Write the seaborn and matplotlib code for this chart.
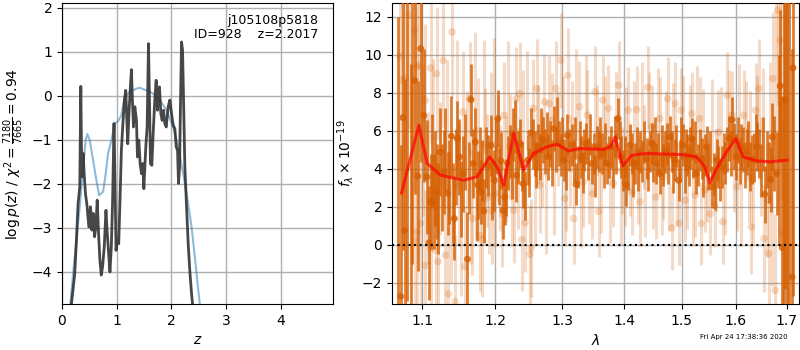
import numpy as np
import pandas as pd
import matplotlib
matplotlib.use("Agg")
import matplotlib.pyplot as plt
from matplotlib.ticker import FixedLocator, FixedFormatter, NullLocator
import seaborn as sns

# ---- left panel: log p(z) ----
pz_blue_z = [0.13, 0.153, 0.214, 0.275, 0.336, 0.385, 0.433, 0.464, 0.507, 0.568, 0.629, 0.678,
             0.751, 0.800, 0.842, 0.904, 0.965, 1.026, 1.087, 1.148, 1.239, 1.361, 1.422, 1.545,
             1.667, 1.789, 1.911, 2.033, 2.125, 2.216, 2.308, 2.369, 2.430, 2.479, 2.521, 2.55]
pz_blue_y = [-5.0, -4.73, -3.89, -3.13, -2.37, -1.62, -1.01, -0.87, -1.01, -1.46, -1.92, -2.26,
             -2.18, -1.77, -1.31, -1.01, -0.63, -0.58, -0.44, -0.03, 0.09, 0.16, 0.18, 0.12,
             0.05, -0.10, -0.33, -0.71, -1.16, -1.77, -2.45, -2.98, -3.66, -4.26, -4.73, -5.0]

pz_dark_z = [0.15, 0.172, 0.233, 0.264, 0.294, 0.325, 0.344, 0.362, 0.387, 0.405, 0.429, 0.460,
             0.491, 0.521, 0.546, 0.571, 0.595, 0.620, 0.644, 0.669, 0.693, 0.718, 0.742, 0.773,
             0.804, 0.828, 0.853, 0.877, 0.902, 0.926, 0.951, 0.969, 0.988, 1.012, 1.037, 1.061,
             1.086, 1.110, 1.141, 1.166, 1.184, 1.202, 1.227, 1.251, 1.270, 1.288, 1.307, 1.332,
             1.362, 1.380, 1.405, 1.429, 1.454, 1.478, 1.497, 1.515, 1.533, 1.557, 1.582, 1.600,
             1.618, 1.643, 1.667, 1.697, 1.722, 1.747, 1.765, 1.783, 1.808, 1.832, 1.857, 1.881,
             1.906, 1.942, 1.973, 2.003, 2.034, 2.064, 2.089, 2.113, 2.131, 2.150, 2.168, 2.186,
             2.205, 2.223, 2.247, 2.278, 2.308, 2.339, 2.369, 2.388, 2.41]
pz_dark_y = [-5.5, -4.73, -4.04, -3.28, -2.45, -2.07, 0.21, -1.84, -1.31, -1.77, -2.22, -2.52,
             -2.98, -2.52, -3.05, -2.67, -3.20, -2.98, -2.37, -3.13, -3.73, -4.07, -3.88, -3.43,
             -2.60, -3.13, -3.58, -4.00, -3.43, -2.37, -0.63, -1.92, -3.51, -3.28, -3.36, -2.37,
             -1.24, -0.71, -0.10, 0.12, -0.48, -1.09, -0.33, 0.20, 0.59, -0.10, -0.71, -0.25,
             -0.56, -1.39, -1.01, -1.54, -1.77, -1.54, -2.11, -1.62, -1.16, -0.71, 1.18, -0.10,
             -1.54, -1.58, -0.86, -0.10, 0.35, -0.33, 0.05, 0.20, -0.41, -0.56, -0.33, -0.63,
             -0.71, -0.25, -0.10, -0.41, -0.67, -0.75, -1.16, -1.24, -1.99, -1.62, -0.10, 1.22,
             1.03, -0.10, -1.62, -2.52, -3.36, -4.00, -4.49, -4.73, -5.5]

# ---- right panel: spectrum, points with visible dots ----
dark_wave = [1.072, 1.075, 1.077, 1.090, 1.094, 1.098, 1.102, 1.106, 1.109, 1.111, 1.115, 1.119,
             1.124, 1.129, 1.134, 1.139, 1.143, 1.147, 1.150, 1.155, 1.161, 1.166, 1.169, 1.172,
             1.176, 1.180, 1.184, 1.190, 1.194, 1.199, 1.204, 1.208, 1.211, 1.214, 1.218, 1.226,
             1.231, 1.237, 1.241, 1.248, 1.252, 1.258, 1.263, 1.271, 1.279, 1.287, 1.295, 1.303,
             1.308, 1.315, 1.322, 1.330, 1.338, 1.347, 1.355, 1.364, 1.372, 1.379, 1.390, 1.395,
             1.404, 1.410, 1.418, 1.427, 1.438, 1.447, 1.455, 1.461, 1.470, 1.479, 1.487, 1.494,
             1.502, 1.510, 1.518, 1.526, 1.536, 1.545, 1.555, 1.564, 1.574, 1.587, 1.593, 1.601,
             1.610, 1.621, 1.632, 1.641, 1.656, 1.668, 1.671, 1.680, 1.687, 1.691, 1.697, 1.711,
             1.713]
dark_flux = [-2.73, 6.69, 0.74, 8.66, 3.60, 10.33, 6.80, 3.56, 0.09, 2.25, 2.25, 2.80,
             4.88, 3.83, 2.70, 5.71, 1.37, 5.58, 4.62, 3.74, -0.77, 7.64, 4.27, 5.41,
             3.13, 2.78, 1.77, 4.18, 5.23, 3.39, 6.64, 4.41, 1.81, 2.51, 4.30, 5.81,
             3.65, 5.32, 3.21, 4.45, 5.88, 4.80, 5.15, 5.50, 4.62, 6.11, 5.32, 4.45,
             5.76, 5.23, 3.18, 4.62, 5.32, 4.27, 5.15, 4.80, 4.27, 5.15, 6.64, 4.62,
             3.13, 5.23, 4.27, 4.88, 4.53, 5.32, 4.27, 3.74, 4.88, 5.67, 4.45, 3.39,
             5.23, 4.71, 5.58, 3.74, 4.53, 5.15, 3.04, 4.45, 4.09, 5.58, 6.58, 4.62,
             5.15, 4.88, 4.48, 5.15, 2.65, 3.44, 5.67, 3.74, 8.36, -0.16, 7.64, -1.71,
             9.31]
dark_err = [8.0, 7.0, 8.0, 6.0, 5.0, 6.0, 3.5, 3.0, 3.0, 2.5, 2.5, 2.5,
            2.3, 2.2, 2.2, 2.1, 2.2, 2.0, 2.0, 2.0, 2.5, 1.9, 1.8, 1.8,
            1.8, 1.7, 1.7, 1.6, 1.6, 1.6, 1.5, 1.5, 1.5, 1.5, 1.4, 1.4,
            1.4, 1.3, 1.3, 1.3, 1.3, 1.2, 1.2, 1.2, 1.2, 1.2, 1.2, 1.1,
            1.1, 1.1, 1.1, 1.1, 1.1, 1.1, 1.1, 1.1, 1.1, 1.1, 1.1, 1.1,
            1.1, 1.1, 1.1, 1.1, 1.1, 1.1, 1.1, 1.1, 1.1, 1.1, 1.1, 1.1,
            1.1, 1.1, 1.1, 1.1, 1.1, 1.1, 1.1, 1.1, 1.1, 1.2, 1.2, 1.2,
            1.2, 1.2, 1.3, 1.3, 1.5, 1.7, 1.8, 2.2, 4.0, 8.0, 10.0, 12.0,
            12.0]

# further dark bins (dots mostly hidden behind bars)
dark_wave_b = [1.068, 1.080, 1.085, 1.087, 1.113, 1.117, 1.121, 1.126, 1.131, 1.136,
               1.141, 1.145, 1.152, 1.158, 1.163, 1.174, 1.178, 1.182, 1.187, 1.196,
               1.201, 1.206, 1.216, 1.221, 1.224, 1.229, 1.234, 1.239, 1.244, 1.250,
               1.255, 1.260, 1.266, 1.268, 1.274, 1.277, 1.282, 1.284, 1.290, 1.292,
               1.298, 1.300, 1.306, 1.311, 1.318, 1.320, 1.325, 1.328, 1.333, 1.335,
               1.341, 1.344, 1.350, 1.352, 1.358, 1.361, 1.367, 1.369, 1.375, 1.382,
               1.385, 1.387, 1.393, 1.398, 1.401, 1.407, 1.413, 1.415, 1.421, 1.424,
               1.430, 1.433, 1.441, 1.444, 1.450, 1.452, 1.458, 1.464, 1.467, 1.473,
               1.476, 1.482, 1.484, 1.490, 1.497, 1.499, 1.505, 1.507, 1.513, 1.515,
               1.521, 1.523, 1.529, 1.532, 1.539, 1.542, 1.548, 1.551, 1.558, 1.561,
               1.567, 1.570, 1.577, 1.580, 1.584, 1.590, 1.597, 1.604, 1.607, 1.613,
               1.617, 1.624, 1.627, 1.635, 1.638, 1.645, 1.648, 1.652, 1.660, 1.664,
               1.675, 1.684, 1.694, 1.700, 1.705]
dark_flux_b = [4.0, 5.0, 2.5, 6.0, 4.4, 3.5, 1.9, 3.0, 5.0, 3.3,
               2.2, 4.1, 2.4, 4.9, 3.5, 2.0, 4.5, 3.9, 4.6, 2.9,
               5.2, 3.6, 3.0, 4.9, 3.8, 6.2, 4.6, 4.1, 2.6, 3.8,
               5.3, 4.2, 4.6, 6.0, 4.9, 5.8, 5.3, 4.3, 5.0, 6.6,
               4.7, 5.6, 4.0, 5.0, 4.4, 5.6, 4.1, 5.4, 3.8, 5.0,
               4.5, 5.8, 4.8, 3.6, 4.9, 5.6, 4.1, 5.3, 4.6, 4.1,
               5.7, 4.8, 5.4, 3.9, 4.6, 4.0, 4.8, 3.6, 5.1, 3.9,
               4.4, 5.4, 3.9, 4.9, 4.4, 5.6, 4.8, 5.2, 4.2, 5.3,
               4.3, 4.9, 3.8, 5.2, 4.4, 5.6, 3.8, 5.0, 4.2, 5.1,
               4.6, 5.4, 4.2, 5.0, 3.6, 4.7, 4.0, 4.9, 3.7, 2.9,
               4.1, 3.4, 4.8, 4.3, 5.0, 4.8, 5.2, 5.5, 4.4, 5.0,
               4.2, 5.3, 4.1, 4.6, 5.6, 4.8, 3.9, 5.3, 4.5, 3.8,
               4.8, 5.0, 4.0, 3.0, 6.0]
dark_err_b = [8.0, 8.0, 7.0, 7.0, 2.5, 2.5, 2.4, 2.3, 2.2, 2.2,
              2.1, 2.0, 2.0, 2.0, 1.9, 1.8, 1.7, 1.6, 1.6, 1.6,
              1.5, 1.5, 1.5, 1.4, 1.4, 1.4, 1.4, 1.3, 1.3, 1.3,
              1.3, 1.2, 1.2, 1.2, 1.2, 1.2, 1.2, 1.2, 1.2, 1.2,
              1.1, 1.1, 1.1, 1.1, 1.1, 1.1, 1.1, 1.1, 1.1, 1.1,
              1.1, 1.1, 1.1, 1.1, 1.1, 1.1, 1.1, 1.1, 1.1, 1.1,
              1.1, 1.1, 1.1, 1.1, 1.1, 1.1, 1.1, 1.1, 1.1, 1.1,
              1.1, 1.1, 1.1, 1.1, 1.1, 1.1, 1.1, 1.1, 1.1, 1.1,
              1.1, 1.1, 1.1, 1.1, 1.1, 1.1, 1.1, 1.1, 1.1, 1.1,
              1.1, 1.1, 1.1, 1.1, 1.1, 1.1, 1.1, 1.1, 1.1, 1.1,
              1.1, 1.1, 1.1, 1.1, 1.2, 1.2, 1.2, 1.2, 1.2, 1.2,
              1.2, 1.2, 1.3, 1.3, 1.3, 1.3, 1.4, 1.4, 1.5, 1.6,
              2.0, 5.0, 10.0, 12.0, 12.0]

light_wave = [1.071, 1.074, 1.078, 1.083, 1.090, 1.091, 1.093, 1.093, 1.096, 1.098, 1.104, 1.104,
              1.111, 1.111, 1.118, 1.119, 1.121, 1.128, 1.131, 1.135, 1.140, 1.144, 1.149, 1.155,
              1.157, 1.164, 1.168, 1.173, 1.178, 1.182, 1.186, 1.191, 1.196, 1.200, 1.204, 1.210,
              1.213, 1.221, 1.227, 1.231, 1.236, 1.239, 1.244, 1.251, 1.253, 1.256, 1.261, 1.266,
              1.273, 1.280, 1.284, 1.290, 1.298, 1.304, 1.309, 1.313, 1.318, 1.327, 1.333, 1.340,
              1.348, 1.352, 1.358, 1.365, 1.374, 1.382, 1.391, 1.396, 1.401, 1.407, 1.413, 1.421,
              1.427, 1.433, 1.440, 1.447, 1.454, 1.461, 1.467, 1.475, 1.482, 1.488, 1.495, 1.498,
              1.506, 1.518, 1.524, 1.532, 1.535, 1.542, 1.552, 1.560, 1.567, 1.575, 1.583, 1.593,
              1.602, 1.615, 1.625, 1.630, 1.638, 1.644, 1.655, 1.661, 1.664, 1.672, 1.677, 1.682,
              1.687, 1.693]
light_flux = [9.93, 8.66, 8.80, 12.10, 11.30, 0.23, 9.36, 0.67, 9.45, 1.11, 7.60, -1.10,
              9.30, -0.20, -0.30, 9.00, -0.90, 9.70, -0.56, -2.60, 11.20, -3.00, 3.13, 6.99,
              -1.16, 7.69, 1.37, 3.22, 0.49, 0.26, 5.23, 2.51, 1.75, 2.69, 5.06, 1.63,
              6.82, 5.15, 1.81, 7.69, 7.96, 0.26, 1.14, -0.51, -0.18, 7.17, 8.22, 3.13,
              7.52, 7.43, 6.55, 8.22, 9.72, 2.43, 8.92, 4.45, 1.37, 7.26, 3.30, 6.82,
              2.69, 8.05, 1.75, 7.61, 7.17, 3.22, 8.40, 3.92, 3.30, 7.08, 2.78, 7.11,
              2.25, 5.15, 8.27, 6.20, 2.51, 6.64, 3.56, 7.69, 0.88, 7.43, 1.11, 7.08,
              2.34, 6.90, 2.60, 6.64, 1.11, 2.87, 1.63, 2.07, 5.93, 1.20, 7.87, 6.82,
              3.04, 6.82, 3.56, 0.93, 7.08, 8.22, 0.32, 2.34, -0.47, 8.75, -2.41, 12.35,
              10.77, 0.58]
light_err = [6.0, 6.0, 6.0, 6.0, 5.0, 5.0, 5.0, 5.0, 4.5, 4.5, 4.0, 4.0,
             4.0, 4.0, 3.5, 3.5, 3.5, 3.5, 3.5, 3.5, 3.5, 3.5, 3.2, 3.2,
             3.2, 3.0, 3.0, 3.0, 3.0, 3.0, 3.0, 3.0, 2.8, 2.8, 2.8, 2.8,
             2.8, 2.8, 2.8, 2.7, 2.7, 2.7, 2.6, 2.6, 2.6, 2.6, 2.6, 2.5,
             2.5, 2.5, 2.5, 2.5, 2.5, 2.5, 2.5, 2.4, 2.4, 2.4, 2.4, 2.4,
             2.4, 2.4, 2.4, 2.3, 2.3, 2.3, 2.3, 2.3, 2.3, 2.3, 2.3, 2.3,
             2.3, 2.2, 2.2, 2.2, 2.2, 2.2, 2.2, 2.2, 2.2, 2.2, 2.2, 2.2,
             2.2, 2.2, 2.2, 2.2, 2.2, 2.2, 2.2, 2.2, 2.2, 2.2, 2.3, 2.3,
             2.3, 2.4, 2.4, 2.5, 2.5, 2.6, 2.8, 3.0, 3.2, 3.5, 4.0, 5.0,
             6.0, 6.0]

light_wave_b = [1.101, 1.107, 1.114, 1.124, 1.133, 1.138, 1.146, 1.152, 1.160, 1.166,
                1.171, 1.176, 1.184, 1.189, 1.194, 1.198, 1.207, 1.216, 1.218, 1.224,
                1.233, 1.241, 1.247, 1.258, 1.263, 1.269, 1.276, 1.287, 1.294, 1.301,
                1.306, 1.316, 1.322, 1.330, 1.337, 1.343, 1.355, 1.362, 1.369, 1.377,
                1.386, 1.394, 1.404, 1.410, 1.417, 1.424, 1.430, 1.436, 1.443, 1.450,
                1.457, 1.464, 1.471, 1.478, 1.485, 1.491, 1.502, 1.509, 1.515, 1.521,
                1.528, 1.539, 1.546, 1.555, 1.563, 1.571, 1.579, 1.587, 1.597, 1.606,
                1.610, 1.620, 1.628, 1.634, 1.641, 1.649, 1.652, 1.667, 1.670, 1.679,
                1.690]
light_flux_b = [5.5, 3.0, 6.0, 4.0, 6.2, 1.5, 7.5, 0.5, 5.0, 2.0,
                8.2, 5.8, 7.8, 3.9, 6.2, 8.0, 3.5, 4.0, 7.9, 2.7,
                3.5, 6.5, 7.6, 2.6, 5.8, 4.5, 2.0, 3.0, 5.6, 6.4,
                3.2, 6.2, 7.9, 2.2, 7.6, 3.5, 6.0, 3.0, 6.6, 2.4,
                6.8, 2.3, 6.0, 3.8, 6.3, 3.4, 7.3, 2.6, 6.9, 3.0,
                7.1, 2.7, 5.9, 2.9, 6.3, 3.2, 6.7, 3.0, 6.2, 2.1,
                7.2, 6.0, 3.4, 6.5, 3.9, 6.1, 2.7, 6.9, 4.0, 7.2,
                2.2, 6.2, 5.7, 2.4, 6.4, 4.1, 6.6, 6.4, 1.2, 9.0,
                8.4]
light_err_b = [4.0, 4.0, 3.8, 3.5, 3.5, 3.5, 3.3, 3.2, 3.1, 3.0,
               3.0, 3.0, 3.0, 3.0, 2.9, 2.9, 2.8, 2.8, 2.8, 2.8,
               2.7, 2.7, 2.6, 2.6, 2.6, 2.5, 2.5, 2.5, 2.5, 2.5,
               2.5, 2.4, 2.4, 2.4, 2.4, 2.4, 2.4, 2.4, 2.3, 2.3,
               2.3, 2.3, 2.3, 2.3, 2.3, 2.3, 2.3, 2.2, 2.2, 2.2,
               2.2, 2.2, 2.2, 2.2, 2.2, 2.2, 2.2, 2.2, 2.2, 2.2,
               2.2, 2.2, 2.2, 2.2, 2.2, 2.2, 2.2, 2.3, 2.3, 2.3,
               2.3, 2.4, 2.4, 2.4, 2.5, 2.6, 2.7, 3.2, 3.4, 4.5,
               6.0]

model_wave = [1.0732, 1.0956, 1.1066, 1.1243, 1.1559, 1.1745, 1.1923, 1.2029, 1.2124, 1.2270,
              1.2417, 1.2566, 1.2769, 1.2922, 1.3102, 1.3287, 1.3661, 1.3771, 1.3851, 1.3980,
              1.4130, 1.4385, 1.5000, 1.5266, 1.5418, 1.5510, 1.5634, 1.5821, 1.6000, 1.6138,
              1.6399, 1.6660, 1.7009]
model_flux = [2.72, 6.29, 4.27, 3.66, 3.39, 3.57, 4.62, 4.09, 3.13, 5.85,
              3.92, 4.80, 5.15, 5.29, 4.94, 5.06, 5.01, 5.15, 5.67, 4.15,
              4.71, 4.80, 4.74, 4.62, 4.09, 3.25, 4.00, 4.88, 5.59, 4.62,
              4.41, 4.36, 4.45]

wave_ticks = [1.1, 1.2, 1.3, 1.4, 1.5, 1.6, 1.7]
grism_color = (0.835, 0.369, 0.0)

fig = plt.figure(figsize=(8, 3.5), dpi=100)
ax1 = fig.add_axes([0.0775, 0.131, 0.339, 0.86])
ax2 = fig.add_axes([0.49, 0.131, 0.509, 0.86])

# left: p(z)
blue = pd.DataFrame({"z": pz_blue_z, "lnp": pz_blue_y})
dark = pd.DataFrame({"z": pz_dark_z, "lnp": pz_dark_y})
sns.lineplot(data=blue, x="z", y="lnp", ax=ax1, color="#1f77b4", alpha=0.5, lw=1.5, sort=False)
sns.lineplot(data=dark, x="z", y="lnp", ax=ax1, color="#333333", alpha=0.9, lw=2, sort=False)
ax1.set_xlim(0, 4.96)
ax1.set_ylim(-4.73, 2.1)
ax1.set_xticks([0, 1, 2, 3, 4])
ax1.set_yticks([-4, -3, -2, -1, 0, 1, 2])
ax1.grid(True, color="#b0b0b0", lw=1)
ax1.set_axisbelow(True)
ax1.set_xlabel(r"$z$")
ax1.set_ylabel(r"$\log p(z)$ / $\chi^2=\frac{7180}{7665}=0.94$")
ax1.text(0.945, 0.965, "j105108p5818\nID=928    z=2.2017", transform=ax1.transAxes,
         ha="right", va="top", fontsize=9, linespacing=1.1)

# right: spectrum
lw_all = np.concatenate([light_wave, light_wave_b])
lf_all = np.concatenate([light_flux, light_flux_b])
le_all = np.concatenate([light_err, light_err_b])
dw_all = np.concatenate([dark_wave, dark_wave_b])
df_all = np.concatenate([dark_flux, dark_flux_b])
de_all = np.concatenate([dark_err, dark_err_b])

ax2.errorbar(lw_all, lf_all, yerr=le_all, fmt="none", ecolor=grism_color,
             alpha=0.22, elinewidth=2.2, zorder=2)
sns.scatterplot(x=light_wave, y=light_flux, ax=ax2, color=grism_color, alpha=0.22, s=30,
                edgecolor="none", zorder=2)
ax2.errorbar(dw_all, df_all, yerr=de_all, fmt="none", ecolor=grism_color,
             alpha=0.8, elinewidth=2, zorder=3)
sns.scatterplot(x=dark_wave, y=dark_flux, ax=ax2, color=grism_color, alpha=0.8, s=25,
                edgecolor="none", zorder=3)
sns.lineplot(x=model_wave, y=model_flux, ax=ax2, color="red", alpha=0.7, lw=2.2,
             sort=False, zorder=5)
ax2.axhline(0, color="black", ls=":", lw=1.5, zorder=6)

ax2.set_xscale("log")
ax2.set_xlim(1.061, 1.7257)
ax2.xaxis.set_major_locator(FixedLocator(wave_ticks))
ax2.xaxis.set_major_formatter(FixedFormatter([f"{w:.1f}" for w in wave_ticks]))
ax2.xaxis.set_minor_locator(NullLocator())
ax2.set_ylim(-3.14, 12.72)
ax2.set_yticks([-2, 0, 2, 4, 6, 8, 10, 12])
ax2.grid(True, color="#b0b0b0", lw=1)
ax2.set_axisbelow(True)
ax2.set_xlabel(r"$\lambda$")
ax2.set_ylabel(r"$f_\lambda\times10^{-19}$")

fig.text(0.985, 0.028, "Fri Apr 24 17:38:36 2020", ha="right", va="bottom", fontsize=5)

fig.savefig("out.png", dpi=100)
